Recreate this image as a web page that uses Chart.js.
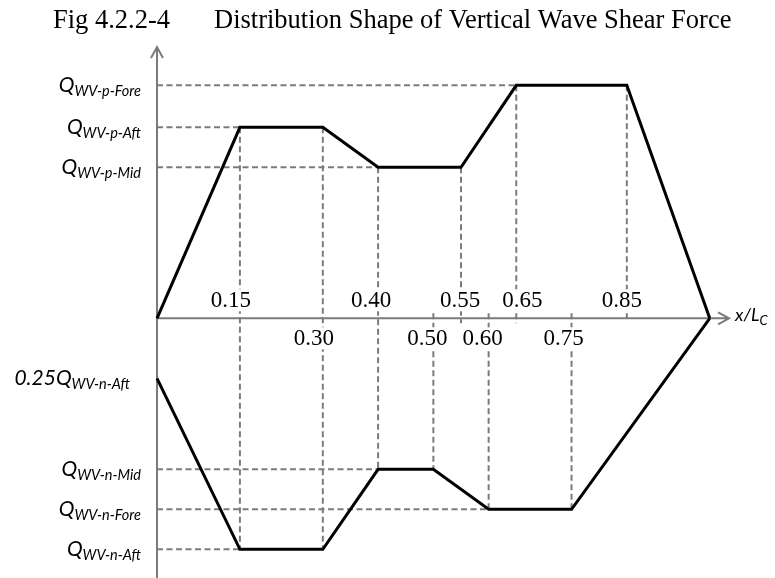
<!DOCTYPE html>
<html>
<head>
<meta charset="utf-8">
<script src="https://cdn.jsdelivr.net/npm/chart.js@4.4.0/dist/chart.umd.min.js"></script>
<style>
    html, body { margin: 0; padding: 0; background: #fff; }
    #wrap { width: 775px; height: 578px; position: relative; }
</style>
</head>
<body>
<div id="wrap"><canvas id="shearChart"></canvas></div>
<script>
// shape of the positive (upper) and negative (lower) shear force curves, x in units of L_C
const posX = [0, 0.15, 0.30, 0.40, 0.55, 0.65, 0.85, 1.00];
const posY = [0, 1.91, 1.91, 1.51, 1.51, 2.33, 2.33, 0];
const negX = [0, 0.15, 0.30, 0.40, 0.50, 0.60, 0.75, 1.00];
const negY = [-0.60, -2.31, -2.31, -1.51, -1.51, -1.91, -1.91, 0];

// named force levels on the vertical axis
const levelPrefix = ['Q', 'Q', 'Q', '0.25Q', 'Q', 'Q', 'Q'];
const levelSub = ['WV-p-Fore', 'WV-p-Aft', 'WV-p-Mid', 'WV-n-Aft', 'WV-n-Mid', 'WV-n-Fore', 'WV-n-Aft'];
const levelValues = [2.33, 1.91, 1.51, -0.60, -1.51, -1.91, -2.31];
const levelGuideEnd = [0.65, 0.15, 0.40, null, 0.40, 0.60, 0.15];

// vertical dashed guides
const guideX = [0.15, 0.30, 0.40, 0.55, 0.65, 0.85, 0.50, 0.60, 0.75];
const guideTop = [1.91, 1.91, 1.51, 1.51, 2.33, 2.33, 0.05, 0.05, 0.05];
const guideBottom = [-2.31, -2.31, -1.51, -0.05, -0.05, 0, -1.51, -1.91, -1.91];

// x tick labels, above and below the axis
const ticksAbove = [0.15, 0.40, 0.55, 0.65, 0.85];
const ticksBelow = [0.30, 0.50, 0.60, 0.75];

const GRAY = '#7b7b7b';

const toPoints = (xs, ys) => xs.map((x, i) => ({ x: x, y: ys[i] }));

const hGuides = [];
levelValues.forEach((v, i) => {
    if (levelGuideEnd[i] === null) return;
    hGuides.push({ x: 0, y: v }, { x: levelGuideEnd[i], y: v }, { x: levelGuideEnd[i], y: null });
});
const vGuides = [];
guideX.forEach((x, i) => {
    vGuides.push({ x: x, y: guideTop[i] }, { x: x, y: guideBottom[i] }, { x: x, y: null });
});

const lineBase = { showLine: true, pointRadius: 0, tension: 0, clip: false, spanGaps: false };

const labelsPlugin = {
    id: 'shearLabels',
    beforeDatasetsDraw(chart) {
        const ctx = chart.ctx;
        const xs = chart.scales.x, ys = chart.scales.y;
        const x0 = xs.getPixelForValue(0), y0 = ys.getPixelForValue(0);
        const top = chart.chartArea.top, bottom = chart.height;
        const xEnd = xs.getPixelForValue(1.035);
        ctx.save();
        ctx.strokeStyle = GRAY;
        ctx.lineWidth = 2;
        ctx.beginPath();
        ctx.moveTo(x0, bottom); ctx.lineTo(x0, top);
        ctx.moveTo(x0 - 6, top + 11); ctx.lineTo(x0, top); ctx.lineTo(x0 + 6, top + 11);
        ctx.moveTo(x0, y0); ctx.lineTo(xEnd, y0);
        ctx.moveTo(xEnd - 11, y0 - 6); ctx.lineTo(xEnd, y0); ctx.lineTo(xEnd - 11, y0 + 6);
        ctx.stroke();
        ctx.restore();
    },
    afterDatasetsDraw(chart) {
        const ctx = chart.ctx;
        const xs = chart.scales.x, ys = chart.scales.y;
        const y0 = ys.getPixelForValue(0);
        ctx.save();

        // tick labels with white boxes that break the dashed guides
        const shift = { '0.15': -9, '0.40': -7, '0.55': -1, '0.65': 6, '0.85': -5, '0.30': -9, '0.50': -6, '0.60': -6, '0.75': -8 };
        ctx.font = '23px "Liberation Serif", "Times New Roman", serif';
        ctx.textAlign = 'center';
        ctx.textBaseline = 'alphabetic';
        const drawTick = (v, base) => {
            const txt = v.toFixed(2);
            const cx = xs.getPixelForValue(v) + shift[txt];
            const w = ctx.measureText(txt).width;
            ctx.fillStyle = '#fff';
            ctx.fillRect(cx - w / 2 - 2, base - 18, w + 4, 22);
            ctx.fillStyle = '#000';
            ctx.fillText(txt, cx, base);
        };
        ticksAbove.forEach(v => drawTick(v, y0 - 11));
        ticksBelow.forEach(v => drawTick(v, y0 + 27));

        // level labels on the left
        const right = xs.getPixelForValue(0) - 16;
        levelValues.forEach((v, i) => {
            const py = ys.getPixelForValue(v);
            ctx.font = 'italic 14.5px Lato, "Open Sans", sans-serif';
            const sw = ctx.measureText(levelSub[i]).width;
            const edge = levelPrefix[i] === 'Q' ? right : right - 11;
            ctx.textAlign = 'right';
            ctx.fillStyle = '#000';
            ctx.fillText(levelSub[i], edge, py + 11);
            ctx.font = 'italic 21px Lato, "Open Sans", sans-serif';
            ctx.fillText(levelPrefix[i], edge - sw, py + 7);
        });

        // axis name
        ctx.textAlign = 'left';
        const ax = xs.getPixelForValue(1.035) + 6;
        ctx.font = 'italic 18px Lato, "Open Sans", sans-serif';
        ctx.fillText('x/L', ax, y0 + 3);
        const lw = ctx.measureText('x/L').width;
        ctx.font = 'italic 13px Lato, "Open Sans", sans-serif';
        ctx.fillText('C', ax + lw, y0 + 7);

        // title
        ctx.font = '26.5px "Liberation Serif", "Times New Roman", serif';
        ctx.fillText('Fig 4.2.2-4', 53, 28);
        ctx.fillText('Distribution Shape of Vertical Wave Shear Force', 214, 28);
        ctx.restore();
    }
};

new Chart(document.getElementById('shearChart').getContext('2d'), {
    type: 'scatter',
    data: {
        datasets: [
            { ...lineBase, label: 'positive', data: toPoints(posX, posY), borderColor: '#000', borderWidth: 3 },
            { ...lineBase, label: 'negative', data: toPoints(negX, negY), borderColor: '#000', borderWidth: 3 },
            { ...lineBase, label: 'level guides', data: hGuides, borderColor: GRAY, borderWidth: 2, borderDash: [6, 3.5] },
            { ...lineBase, label: 'x guides', data: vGuides, borderColor: GRAY, borderWidth: 2, borderDash: [6, 3.5] }
        ]
    },
    options: {
        responsive: true,
        maintainAspectRatio: false,
        animation: false,
        events: [],
        layout: { padding: { left: 157, top: 47, right: 10, bottom: 0 } },
        scales: {
            x: { type: 'linear', min: 0, max: 1.1, display: false },
            y: { type: 'linear', min: -2.597, max: 2.713, display: false }
        },
        plugins: {
            legend: { display: false },
            tooltip: { enabled: false }
        }
    },
    plugins: [labelsPlugin]
});
</script>
</body>
</html>
